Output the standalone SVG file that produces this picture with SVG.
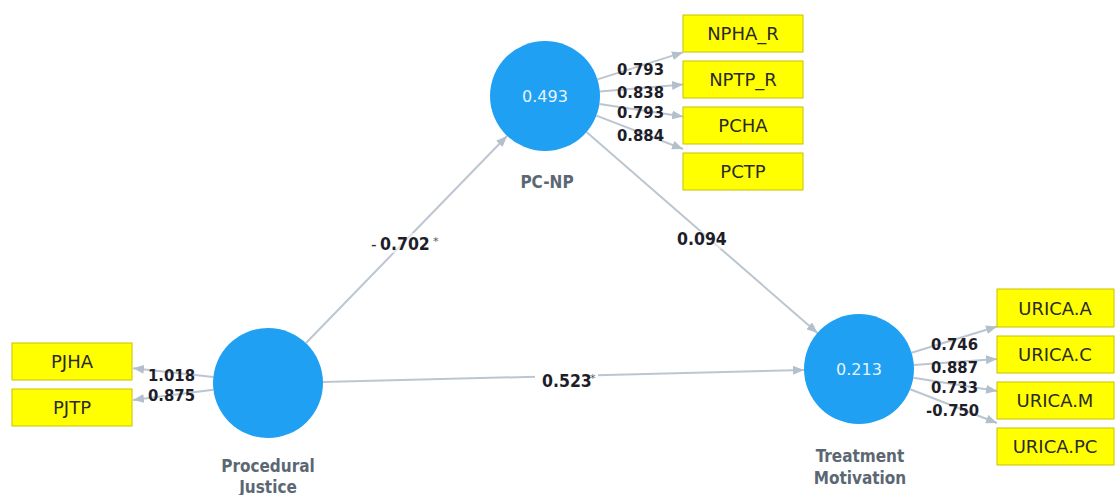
<svg xmlns="http://www.w3.org/2000/svg" width="1115" height="495" viewBox="0 0 1115 495">
  <style>
    .bg { fill: #ffffff; }
    .edge { stroke: #bcc6d0; stroke-width: 2; fill: none; marker-end: url(#arrow); }
    .latent { fill: #1fa0f3; }
    .value { font-family: "DejaVu Sans", "Liberation Sans", sans-serif; font-size: 16px; fill: #e6f3ff; text-anchor: middle; }
    .name { font-family: "DejaVu Sans Condensed", "DejaVu Sans", sans-serif; font-stretch: condensed; font-weight: bold; font-size: 17px; fill: #5b6874; text-anchor: middle; }
    .ind rect { fill: #ffff00; stroke: #c9c200; stroke-width: 1; }
    .ind text { font-family: "DejaVu Sans", "Liberation Sans", sans-serif; font-size: 18px; fill: #2a2a2a; text-anchor: middle; }
    .load { font-family: "DejaVu Sans Condensed", "DejaVu Sans", sans-serif; font-stretch: condensed; font-weight: bold; font-size: 16.5px; fill: #1e1e2a; }
    .path { font-family: "DejaVu Sans Condensed", "DejaVu Sans", sans-serif; font-stretch: condensed; font-weight: bold; font-size: 17.5px; fill: #1e1e2a; }
    .star { font-family: "DejaVu Sans", sans-serif; font-size: 11px; fill: #555; }
    .dash { font-weight: normal; fill: #333; }
    .lblbg { fill: #ffffff; }
  </style>
  <defs>
    <marker id="arrow" markerUnits="userSpaceOnUse" markerWidth="11" markerHeight="9" refX="11" refY="4.5" orient="auto">
      <path d="M0,0 L11,4.5 L0,9 z" fill="#b3c0cc"/>
    </marker>
  </defs>

  <rect class="bg" x="0" y="0" width="1115" height="495"/>

  <!-- connectors: structural paths and outer loadings -->
  <g id="connectors">
    <line class="edge" x1="306" y1="343" x2="507" y2="136"/>
    <line class="edge" x1="323" y1="382" x2="804" y2="370"/>
    <line class="edge" x1="586.5" y1="132" x2="817.5" y2="333"/>

    <line class="edge" x1="597.5" y1="79.4" x2="683" y2="52.4"/>
    <line class="edge" x1="599.8" y1="91.4" x2="683" y2="84.5"/>
    <line class="edge" x1="599.4" y1="104.1" x2="683" y2="116.6"/>
    <line class="edge" x1="596.4" y1="115.6" x2="683" y2="149"/>

    <line class="edge" x1="213.3" y1="377" x2="133" y2="368.2"/>
    <line class="edge" x1="213.4" y1="389.8" x2="133" y2="399.9"/>

    <line class="edge" x1="911.5" y1="352.7" x2="997" y2="326.5"/>
    <line class="edge" x1="913.9" y1="365" x2="997" y2="358.9"/>
    <line class="edge" x1="913.3" y1="377.7" x2="997" y2="391"/>
    <line class="edge" x1="910.2" y1="389.2" x2="997" y2="423"/>
  </g>

  <!-- path coefficients -->
  <g id="path-labels">
    <rect class="lblbg" x="379" y="233" width="52" height="20" opacity="0.55"/>
    <text class="path" x="371" y="250"><tspan class="dash">-</tspan><tspan x="380">0.702</tspan></text>
    <text class="star" x="433" y="245">*</text>
    <rect class="lblbg" x="535" y="370" width="63" height="22"/>
    <text class="path" x="542" y="387">0.523</text>
    <text class="star" x="590" y="382">*</text>
    <rect class="lblbg" x="676" y="231" width="52" height="18" opacity="0.55"/>
    <text class="path" x="677" y="245">0.094</text>
  </g>

  <!-- outer loadings -->
  <g id="loadings">
    <text class="load" x="617" y="75">0.793</text>
    <text class="load" x="617" y="98">0.838</text>
    <text class="load" x="617" y="118">0.793</text>
    <text class="load" x="617" y="141">0.884</text>

    <text class="load" x="148" y="381">1.018</text>
    <text class="load" x="148" y="401">0.875</text>

    <text class="load" x="931" y="350">0.746</text>
    <text class="load" x="931" y="373">0.887</text>
    <text class="load" x="931" y="393">0.733</text>
    <text class="load" x="926" y="416">-0.750</text>
  </g>

  <!-- latent constructs -->
  <g id="node-pcnp">
    <circle class="latent" cx="545" cy="96" r="55"/>
    <text class="value" x="545" y="102">0.493</text>
    <text class="name" x="547" y="188">PC-NP</text>
  </g>
  <g id="node-procedural-justice">
    <circle class="latent" cx="268" cy="383" r="55"/>
    <text class="name" x="268" y="472">Procedural</text>
    <text class="name" x="268" y="493">Justice</text>
  </g>
  <g id="node-treatment-motivation">
    <circle class="latent" cx="859" cy="369" r="55"/>
    <text class="value" x="859" y="375">0.213</text>
    <text class="name" x="860" y="462">Treatment</text>
    <text class="name" x="860" y="484">Motivation</text>
  </g>

  <!-- indicators -->
  <g id="ind-npha-r" class="ind"><rect x="683" y="15" width="120" height="37"/><text x="743" y="40">NPHA_R</text></g>
  <g id="ind-nptp-r" class="ind"><rect x="683" y="61" width="120" height="37"/><text x="743" y="86">NPTP_R</text></g>
  <g id="ind-pcha" class="ind"><rect x="683" y="107" width="120" height="37"/><text x="743" y="132">PCHA</text></g>
  <g id="ind-pctp" class="ind"><rect x="683" y="153" width="120" height="37"/><text x="743" y="178">PCTP</text></g>

  <g id="ind-pjha" class="ind"><rect x="12" y="343" width="120" height="37"/><text x="72" y="368">PJHA</text></g>
  <g id="ind-pjtp" class="ind"><rect x="12" y="389" width="120" height="37"/><text x="72" y="414">PJTP</text></g>

  <g id="ind-urica-a" class="ind"><rect x="997" y="289" width="117" height="38"/><text x="1055" y="315">URICA.A</text></g>
  <g id="ind-urica-c" class="ind"><rect x="997" y="336" width="117" height="37"/><text x="1055" y="361">URICA.C</text></g>
  <g id="ind-urica-m" class="ind"><rect x="997" y="382" width="117" height="37"/><text x="1055" y="407">URICA.M</text></g>
  <g id="ind-urica-pc" class="ind"><rect x="997" y="428" width="117" height="37"/><text x="1055" y="453">URICA.PC</text></g>
</svg>
